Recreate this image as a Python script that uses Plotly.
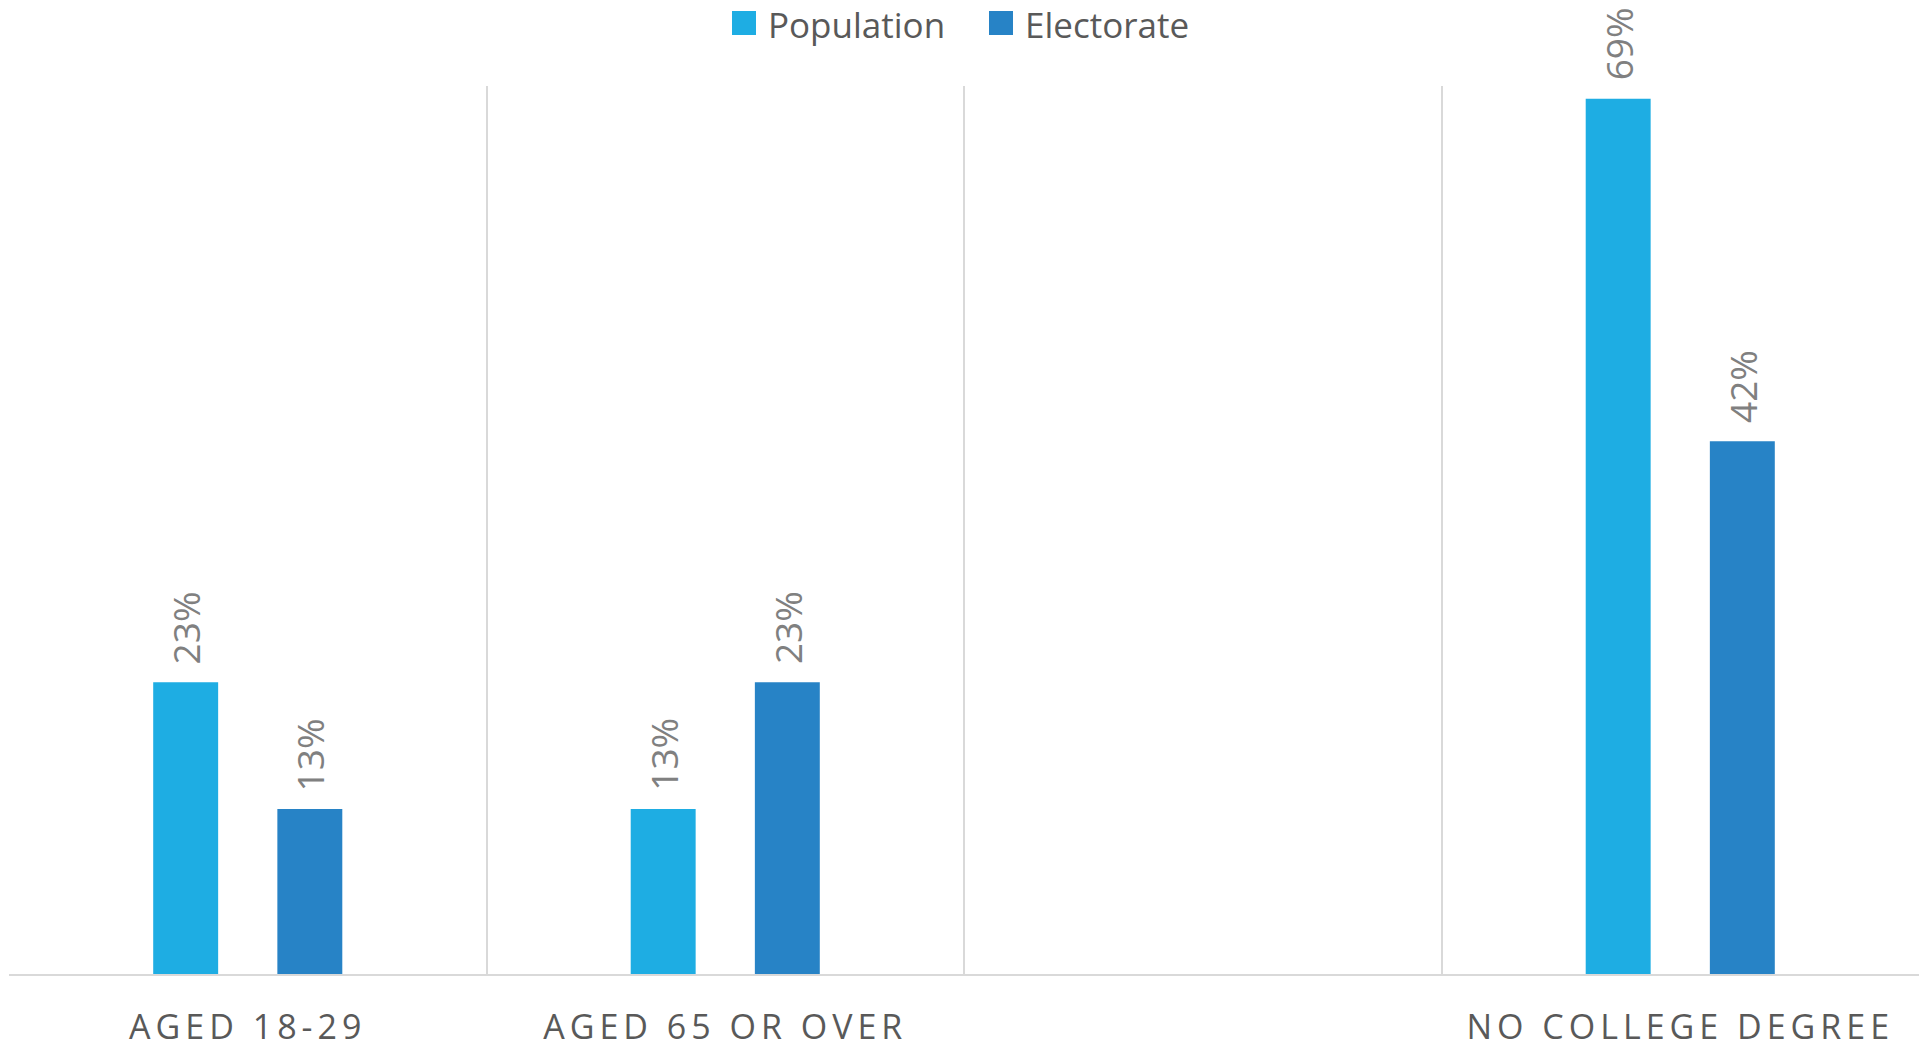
import plotly.graph_objects as go

# Share of each group in the population vs. in the electorate (%)
categories = ["AGED 18-29", "AGED 65 OR OVER", "", "NO COLLEGE DEGREE"]
population = [23, 13, None, 69]
electorate = [13, 23, None, 42]

series_names = ["Population", "Electorate"]
series_colors = ["#1eade3", "#2783c6"]

FONT = "Open Sans"
BAR_W = 0.136          # bar width in category units
PAIR_OFFSET = 0.13     # distance of each bar centre from the category centre

W, H = 1921, 1049
M_L, M_R, M_T, M_B = 9, 2, 86, 75
PLOT_W = W - M_L - M_R
PLOT_H = H - M_T - M_B


def px_to_paper_x(px):
    return (px - M_L) / PLOT_W


def px_to_paper_y(py):
    return (H - M_B - py) / PLOT_H


x_idx = list(range(len(categories)))
fig = go.Figure()

for name, vals, color, sign in zip(series_names, [population, electorate],
                                   series_colors, [-1, 1]):
    fig.add_trace(go.Bar(
        x=x_idx, y=vals, name=name,
        marker=dict(color=color, line=dict(width=0)),
        width=BAR_W,
        offset=sign * PAIR_OFFSET - BAR_W / 2,
        hoverinfo="skip",
        showlegend=False,
    ))
    # rotated value labels above each bar
    for i, v in zip(x_idx, vals):
        if v is None:
            continue
        fig.add_annotation(
            x=i + sign * PAIR_OFFSET, y=v, xref="x", yref="y",
            text=f"{v}%", textangle=-90, showarrow=False,
            xanchor="center", yanchor="bottom", yshift=16,
            font=dict(family=FONT, size=37, color="#808080"),
        )

# legend row across the top: coloured square followed by series name
legend_items_x = [732, 989]   # left edge of each swatch (pixels)
SWATCH = 24
LEGEND_TOP = 11
for name, color, lx in zip(series_names, series_colors, legend_items_x):
    fig.add_shape(
        type="rect", xref="paper", yref="paper",
        x0=px_to_paper_x(lx), x1=px_to_paper_x(lx + SWATCH),
        y0=px_to_paper_y(LEGEND_TOP + SWATCH), y1=px_to_paper_y(LEGEND_TOP),
        fillcolor=color, line=dict(width=0),
    )
    fig.add_annotation(
        x=px_to_paper_x(lx + SWATCH + 10), y=px_to_paper_y(LEGEND_TOP + SWATCH / 2 + 2),
        xref="paper", yref="paper", text=name, showarrow=False,
        xanchor="left", yanchor="middle",
        font=dict(family=FONT, size=35, color="#595959"),
    )

tick_text = [f'<span style="letter-spacing:5px">{c}</span>' for c in categories]

fig.update_layout(
    width=W, height=H,
    margin=dict(l=M_L, r=M_R, t=M_T, b=M_B, autoexpand=False),
    paper_bgcolor="white", plot_bgcolor="white",
    barmode="overlay",
    showlegend=False,
    xaxis=dict(
        range=[-0.5, len(categories) - 0.5],
        tickmode="array", tickvals=x_idx, ticktext=tick_text,
        showgrid=False, zeroline=False, automargin=False,
        showline=True, linecolor="#d9d9d9", linewidth=2,
        ticks="", ticklabelstandoff=22,
        tickfont=dict(family=FONT, size=34, color="#595959"),
        minor=dict(
            tickmode="array",
            tickvals=[i - 0.5 for i in range(len(categories) + 1)],
            showgrid=True, gridcolor="#d9d9d9", gridwidth=1.5, ticks="",
        ),
    ),
    yaxis=dict(
        range=[0, 70], visible=False, showgrid=False, zeroline=False,
        automargin=False,
    ),
)

fig.write_html("out.html")
